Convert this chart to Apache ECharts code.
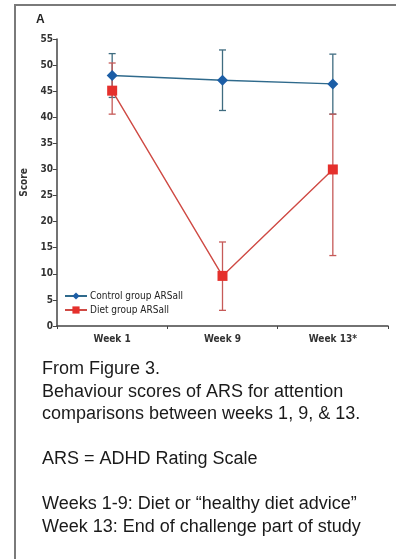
<!DOCTYPE html>
<html>
<head>
<meta charset="utf-8">
<script src="https://cdn.jsdelivr.net/npm/echarts@6/dist/echarts.min.js"></script>
<style>
  html, body { margin: 0; padding: 0; background: #fff; }
  #chart { width: 396px; height: 559px; }
</style>
</head>
<body>
<div id="chart"></div>
<script>
// Attention scores (ARS) at weeks 1, 9 and 13
const weeks = ['Week 1', 'Week 9', 'Week 13*'];
const controlMean = [48, 47.1, 46.4];
const controlLow = [43.8, 41.3, 40.6];
const controlHigh = [52.2, 52.9, 52.1];
const dietMean = [45.1, 9.6, 30];
const dietLow = [40.6, 3.0, 13.5];
const dietHigh = [50.4, 16.1, 40.6];
const yTicks = [0, 5, 10, 15, 20, 25, 30, 35, 40, 45, 50, 55];

const noteLines = [
  'From Figure 3.',
  'Behaviour scores of ARS for attention',
  'comparisons between weeks 1, 9, & 13.',
  '',
  'ARS = ADHD Rating Scale',
  '',
  'Weeks 1-9: Diet or \u201chealthy diet advice\u201d',
  'Week 13: End of challenge part of study'
];

const axisFont = '"DejaVu Sans Condensed", "Liberation Sans Narrow", sans-serif';

function errorBars(low, high, color) {
  return {
    type: 'custom',
    silent: true,
    z: 1,
    data: weeks.map((w, i) => [i, low[i], high[i]]),
    renderItem: function (params, api) {
      const top = api.coord([api.value(0), api.value(2)]);
      const bot = api.coord([api.value(0), api.value(1)]);
      const hw = 3.5;
      const style = { stroke: color, lineWidth: 1.3 };
      return {
        type: 'group',
        children: [
          { type: 'line', shape: { x1: top[0], y1: top[1], x2: bot[0], y2: bot[1] }, style: style },
          { type: 'line', shape: { x1: top[0] - hw, y1: top[1], x2: top[0] + hw, y2: top[1] }, style: style },
          { type: 'line', shape: { x1: bot[0] - hw, y1: bot[1], x2: bot[0] + hw, y2: bot[1] }, style: style }
        ]
      };
    }
  };
}

const chart = echarts.init(document.getElementById('chart'), null, { renderer: 'canvas' });
chart.setOption({
  animation: false,
  backgroundColor: '#fff',
  grid: { left: 57, top: 39, width: 331, height: 287, containLabel: false },
  title: {
    text: noteLines.join('\n'),
    left: 42,
    top: 358,
    padding: 0,
    textStyle: {
      fontFamily: '"Liberation Sans", Arial, sans-serif',
      fontSize: 18,
      fontWeight: 'normal',
      lineHeight: 22.5,
      color: '#1a1a1a'
    }
  },
  legend: {
    orient: 'vertical',
    left: 64,
    top: 291,
    itemWidth: 22,
    itemHeight: 9,
    itemGap: 4,
    padding: 0,
    textStyle: { fontFamily: axisFont, fontSize: 10, color: '#222', padding: [0, 0, 0, -2] },
    data: ['Control group ARSall', 'Diet group ARSall']
  },
  xAxis: {
    type: 'category',
    data: weeks,
    boundaryGap: true,
    axisLine: { lineStyle: { color: '#444', width: 1.5 } },
    axisTick: { show: true, length: 3, lineStyle: { color: '#444' } },
    axisLabel: { fontFamily: axisFont, fontWeight: 'bold', fontSize: 10, color: '#333', margin: 8 }
  },
  yAxis: {
    type: 'value',
    min: yTicks[0],
    max: yTicks[yTicks.length - 1],
    interval: 5,
    name: 'Score',
    nameLocation: 'middle',
    nameGap: 27,
    nameTextStyle: { fontFamily: axisFont, fontWeight: 'bold', fontSize: 10, color: '#333' },
    splitLine: { show: false },
    axisLine: { show: true, lineStyle: { color: '#444', width: 1.5 } },
    axisTick: { show: true, length: 4, lineStyle: { color: '#444' } },
    axisLabel: { fontFamily: axisFont, fontWeight: 'bold', fontSize: 10, color: '#333', margin: 4 }
  },
  graphic: [
    { type: 'polyline', shape: { points: [[15, 559], [15, 5], [396, 5]] },
      style: { stroke: '#7a7a7a', lineWidth: 2, fill: null }, silent: true },
    { type: 'text', left: 36, top: 14,
      style: { text: 'A', fontFamily: '"Liberation Sans", Arial, sans-serif', fontWeight: 'bold', fontSize: 12, fill: '#222' } }
  ],
  series: [
    errorBars(controlLow, controlHigh, '#3f6c80'),
    errorBars(dietLow, dietHigh, '#c65a58'),
    {
      name: 'Control group ARSall',
      type: 'line',
      z: 3,
      data: controlMean,
      symbol: 'diamond',
      symbolSize: [11, 11],
      itemStyle: { color: '#1c5ea6' },
      lineStyle: { color: '#2f6a8c', width: 1.4 }
    },
    {
      name: 'Diet group ARSall',
      type: 'line',
      z: 3,
      data: dietMean,
      symbol: 'rect',
      symbolSize: 10,
      itemStyle: { color: '#e5302c' },
      lineStyle: { color: '#cf4a44', width: 1.4 }
    }
  ]
});
</script>
</body>
</html>
